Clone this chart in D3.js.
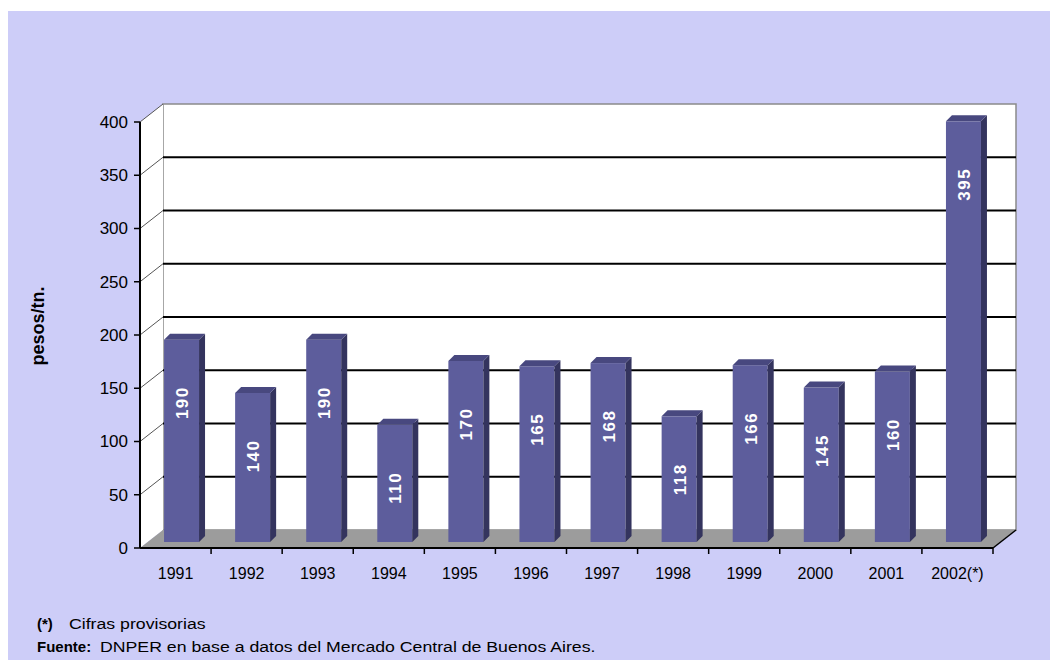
<!DOCTYPE html>
<html>
<head>
<meta charset="utf-8">
<script src="https://cdn.jsdelivr.net/npm/d3@7"></script>
<style>
  html, body { margin: 0; padding: 0; background: #ffffff; }
  svg { display: block; }
</style>
</head>
<body>
<svg id="chart" width="1050" height="660"></svg>
<script>
// ---- data ----
const categories = ["1991","1992","1993","1994","1995","1996","1997","1998","1999","2000","2001","2002(*)"];
const values = [190, 140, 190, 110, 170, 165, 168, 118, 166, 145, 160, 395];
const yTicks = [0, 50, 100, 150, 200, 250, 300, 350, 400];
const yTitle = "pesos/tn.";
const noteMark = "(*)";
const noteText = "Cifras provisorias";
const sourceLabel = "Fuente:";
const sourceText = "DNPER en base a datos del Mercado Central de Buenos Aires.";

(function () {
// ---- layout ----
const W = 1050, H = 660;
const pLeft = 140, pRight = 993, pBottom = 548, pTop = 122;
const DX = 23, DY = -18;        // depth of the 3D box
const BOX = 6, BOY = -6;        // bar front offset into depth
const BDX = 6, BDY = -6;        // bar depth
const barW = 35;

const svg = d3.select("#chart");

// panel background
svg.append("rect").attr("x", 8).attr("y", 11).attr("width", W - 8).attr("height", H - 11)
  .attr("fill", "#cdcdf8");

const x = d3.scaleBand().domain(categories).range([pLeft, pRight]).paddingInner(0).paddingOuter(0);
const y = d3.scaleLinear().domain([0, 400]).range([pBottom, pTop]);

const g = svg.append("g");

// back wall
g.append("rect")
  .attr("x", pLeft + DX).attr("y", y(400) + DY)
  .attr("width", pRight - pLeft).attr("height", pBottom - y(400))
  .attr("fill", "#ffffff").attr("stroke", "#8a8a8a").attr("stroke-width", 1.5);

// left side wall
g.append("path")
  .attr("d", `M${pLeft},${y(400)} L${pLeft + DX},${y(400) + DY} L${pLeft + DX},${pBottom + DY} L${pLeft},${pBottom} Z`)
  .attr("fill", "#ffffff");

// floor
g.append("path")
  .attr("d", `M${pLeft},${pBottom} L${pRight},${pBottom} L${pRight + DX},${pBottom + DY} L${pLeft + DX},${pBottom + DY} Z`)
  .attr("fill", "#9c9c9c");

// gridlines on back wall
g.selectAll("line.grid").data(yTicks.filter(v => v > 0 && v < 400)).enter().append("line")
  .attr("class", "grid")
  .attr("x1", pLeft + DX).attr("x2", pRight + DX)
  .attr("y1", d => y(d) + DY).attr("y2", d => y(d) + DY)
  .attr("stroke", "#000").attr("stroke-width", 2);

// connectors on side wall
g.selectAll("line.conn").data(yTicks.filter(v => v > 0)).enter().append("line")
  .attr("class", "conn")
  .attr("x1", pLeft).attr("x2", pLeft + DX)
  .attr("y1", d => y(d)).attr("y2", d => y(d) + DY)
  .attr("stroke", "#555").attr("stroke-width", 1);

// bars
const bars = g.selectAll("g.bar").data(categories.map((c, i) => ({c, v: values[i]}))).enter()
  .append("g").attr("class", "bar");

function fx(d) { return x(d.c) + x.bandwidth() / 2 + BOX - barW / 2; }
function fTop(d) { return y(d.v) + BOY; }
const fBottom = y(0) + BOY;

bars.append("rect")
  .attr("x", d => fx(d)).attr("y", d => fTop(d))
  .attr("width", barW).attr("height", d => fBottom - fTop(d))
  .attr("fill", "#5d5d9c");
bars.append("path")
  .attr("d", d => {
    const r = fx(d) + barW, t = fTop(d);
    return `M${r},${t} L${r + BDX},${t + BDY} L${r + BDX},${fBottom + BDY} L${r},${fBottom} Z`;
  })
  .attr("fill", "#34345e");
bars.append("path")
  .attr("d", d => {
    const l = fx(d), r = l + barW, t = fTop(d);
    return `M${l},${t} L${l + BDX},${t + BDY} L${r + BDX},${t + BDY} L${r},${t} Z`;
  })
  .attr("fill", "#48487f");

bars.append("text")
  .attr("transform", d => `translate(${fx(d) + barW / 2 + 1},${fTop(d) + 63}) rotate(-90)`)
  .attr("text-anchor", "middle").attr("dominant-baseline", "central")
  .attr("fill", "#ffffff").attr("font-family", "Liberation Sans, Arial, sans-serif")
  .attr("font-weight", "bold").attr("font-size", 17).attr("letter-spacing", 1.5)
  .text(d => d.v);

// x axis
const xAxis = g.append("g");
xAxis.append("line").attr("x1", pLeft).attr("x2", pRight).attr("y1", pBottom).attr("y2", pBottom)
  .attr("stroke", "#000").attr("stroke-width", 2);
xAxis.append("line").attr("x1", pRight).attr("x2", pRight + DX).attr("y1", pBottom).attr("y2", pBottom + DY)
  .attr("stroke", "#000").attr("stroke-width", 1.5);
xAxis.selectAll("line.xt").data(categories.slice(1).concat(["__end"])).enter().append("line")
  .attr("class", "xt")
  .attr("x1", d => d === "__end" ? pRight : x(d)).attr("x2", d => d === "__end" ? pRight : x(d))
  .attr("y1", pBottom).attr("y2", pBottom + 6)
  .attr("stroke", "#000").attr("stroke-width", 1.5);
xAxis.selectAll("text").data(categories).enter().append("text")
  .attr("x", d => x(d) + x.bandwidth() / 2).attr("y", 579)
  .attr("text-anchor", "middle")
  .attr("font-family", "Liberation Sans, Arial, sans-serif").attr("font-size", 16)
  .attr("fill", "#000").text(d => d);

// y axis
const yAxis = g.append("g");
yAxis.append("line").attr("x1", pLeft).attr("x2", pLeft).attr("y1", y(400)).attr("y2", pBottom)
  .attr("stroke", "#000").attr("stroke-width", 2);
yAxis.selectAll("line.yt").data(yTicks).enter().append("line")
  .attr("class", "yt")
  .attr("x1", pLeft - 6).attr("x2", pLeft).attr("y1", d => y(d)).attr("y2", d => y(d))
  .attr("stroke", "#000").attr("stroke-width", 1.5);
yAxis.selectAll("text").data(yTicks).enter().append("text")
  .attr("x", 128).attr("y", d => y(d)).attr("dy", "0.35em")
  .attr("text-anchor", "end")
  .attr("font-family", "Liberation Sans, Arial, sans-serif").attr("font-size", 17)
  .attr("fill", "#000").text(d => d);

svg.append("text")
  .attr("transform", "translate(38,326) rotate(-90)")
  .attr("text-anchor", "middle").attr("dominant-baseline", "central")
  .attr("font-family", "Liberation Sans, Arial, sans-serif").attr("font-size", 18)
  .attr("font-weight", "bold").attr("fill", "#000").text(yTitle);

// footnotes (normal text horizontally stretched like the source image)
const foot = svg.append("g").attr("font-family", "Liberation Sans, Arial, sans-serif").attr("font-size", 15).attr("fill", "#000");
function fnote(xp, yp, txt, bold) {
  foot.append("text").attr("transform", `translate(${xp},${yp})` + (bold ? "" : " scale(1.18,1)"))
    .attr("font-weight", bold ? "bold" : "normal").text(txt);
}
fnote(37, 629, noteMark, true);
fnote(69, 629, noteText, false);
fnote(37, 652, sourceLabel, true);
fnote(100, 652, sourceText, false);
})();
</script>
</body>
</html>
